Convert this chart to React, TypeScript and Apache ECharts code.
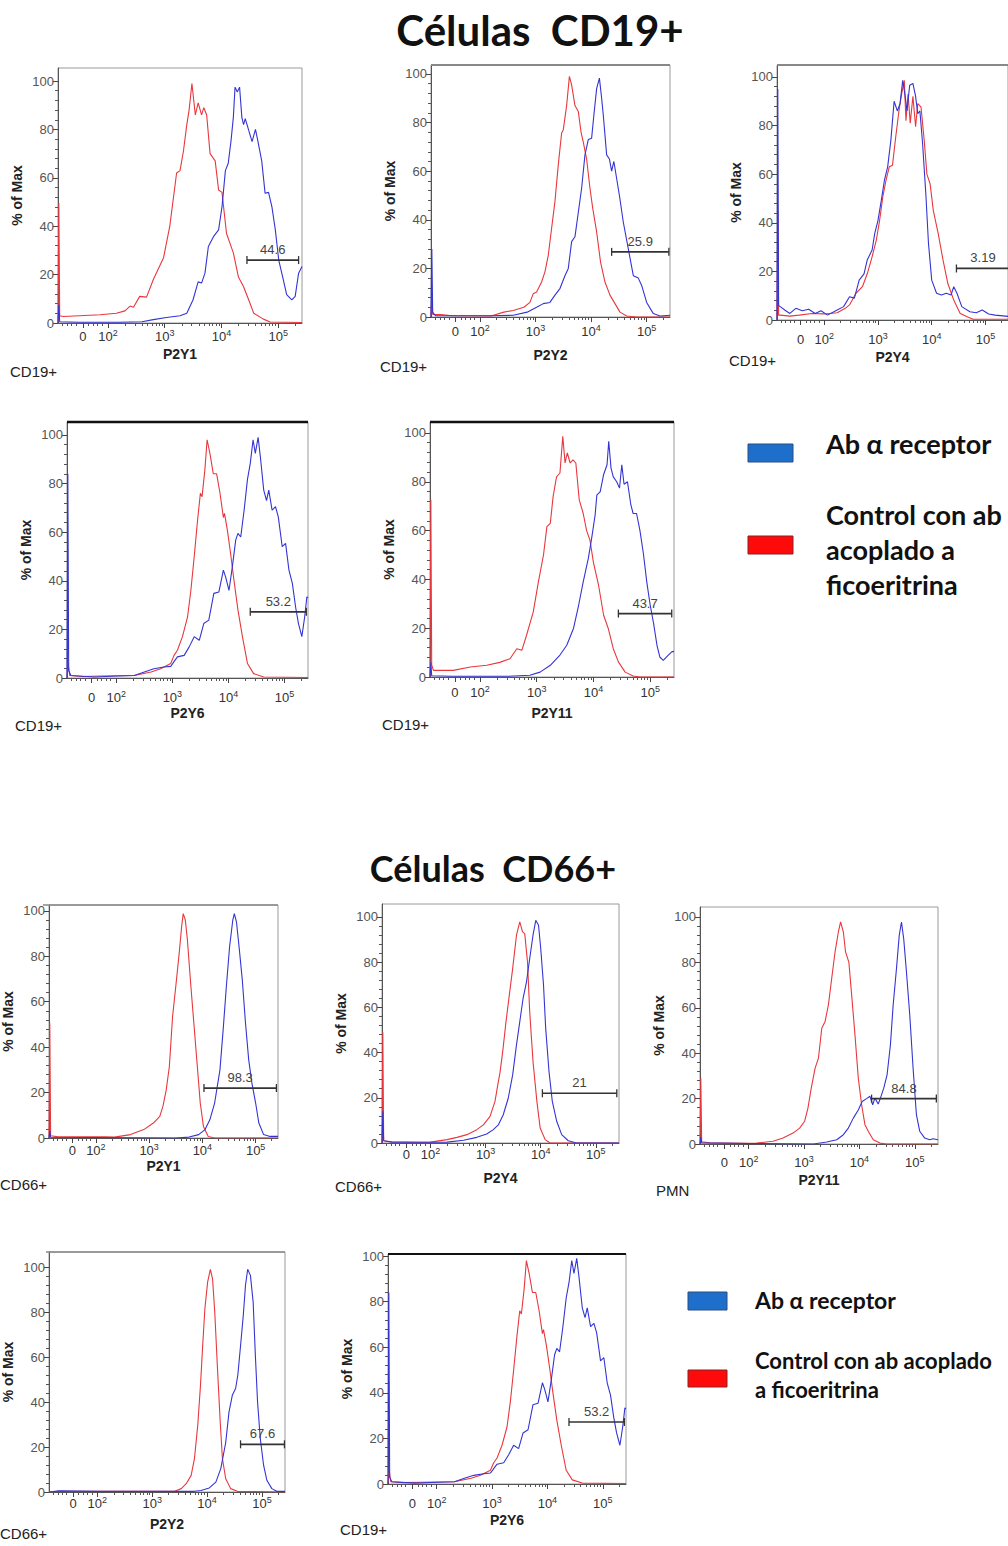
import React, { useEffect, useRef } from 'react';
import * as echarts from 'echarts';

type Pt = [number, number];

// x values: display position on the biexponential axis, in decades (10^k sits at k); y: % of Max
const cd19P2Y1Control: Pt[] = [[1.12,0],[1.135,49.5],[1.15,3],[1.21,2.7],[1.5,3],[1.86,3.4],[2.15,4],[2.3,5],[2.39,7],[2.45,6.5],[2.56,11],[2.68,10.7],[2.8,18],[2.98,27],[3.09,40],[3.21,62],[3.27,63],[3.33,71],[3.39,82],[3.43,88],[3.48,99],[3.54,86],[3.59,91],[3.65,86],[3.69,89],[3.74,86],[3.8,70],[3.89,67],[3.95,55],[4.01,54],[4.09,37],[4.21,29],[4.3,19],[4.39,15],[4.48,9.6],[4.57,4],[4.74,1.6],[4.86,0.4],[5.42,0.2]];
const cd19P2Y1Receptor: Pt[] = [[1.12,0],[1.135,7.5],[1.15,0.5],[1.5,0.3],[2.2,0.3],[2.6,0.5],[2.8,1.4],[3.03,2.3],[3.27,3],[3.39,4],[3.5,9.6],[3.59,17],[3.65,16.5],[3.71,20.6],[3.77,31.6],[3.86,35.7],[3.95,38.5],[4.01,48],[4.07,63],[4.12,66],[4.17,75.5],[4.21,85],[4.24,97.5],[4.28,95.5],[4.32,97.5],[4.36,85],[4.39,82],[4.42,84.5],[4.48,79.7],[4.54,75],[4.6,80],[4.64,75.5],[4.71,67],[4.77,53.6],[4.83,54],[4.89,48],[4.95,38.5],[5.01,26],[5.08,19],[5.15,11.7],[5.24,9.6],[5.3,11],[5.36,20.6],[5.42,23.4]];

const cd19P2Y2Control: Pt[] = [[1.12,0],[1.135,10],[1.15,1],[1.3,1],[1.5,0.5],[2.2,0.4],[2.43,2],[2.6,2.7],[2.79,4],[2.9,6],[2.96,9.6],[3.02,10.3],[3.11,14.4],[3.17,18.6],[3.23,25.4],[3.29,36.5],[3.35,47.5],[3.41,62.6],[3.47,75.7],[3.5,77],[3.56,87],[3.61,99],[3.65,95.5],[3.71,87],[3.77,84.6],[3.82,76],[3.86,72],[3.92,65],[3.98,53],[4.03,44.7],[4.1,35],[4.17,22.7],[4.25,14.4],[4.34,9],[4.43,5.5],[4.52,2],[4.64,0.4],[4.82,0],[5.42,0]];
const cd19P2Y2Receptor: Pt[] = [[1.12,0],[1.135,28],[1.15,2],[1.2,0.5],[2.2,0.5],[2.6,0.7],[2.85,2],[3.02,4],[3.14,5.5],[3.26,6],[3.35,9],[3.44,11.7],[3.53,17],[3.59,20],[3.65,31],[3.71,33],[3.77,43],[3.83,53],[3.89,66.7],[3.95,73],[4.01,73.6],[4.05,83],[4.1,94],[4.15,98.3],[4.19,90],[4.22,83],[4.28,66.7],[4.33,65],[4.37,60],[4.41,64],[4.46,57],[4.51,50],[4.58,39],[4.67,28],[4.76,17],[4.85,16],[4.91,13],[5,6],[5.12,1.4],[5.24,0.4],[5.42,0.7]];

const cd19P2Y4Control: Pt[] = [[1.12,0],[1.135,45],[1.15,2],[1.18,2],[1.36,1.6],[1.53,2],[1.77,2.7],[2,2.5],[2.24,3],[2.39,4.8],[2.47,6.2],[2.59,11],[2.71,13.7],[2.8,19],[2.89,26],[2.97,33],[3.03,41],[3.09,50.7],[3.15,57.5],[3.21,63],[3.27,63.7],[3.33,75.3],[3.39,86],[3.44,93],[3.49,98.6],[3.52,82],[3.56,93],[3.6,81],[3.65,92],[3.7,79.5],[3.74,89],[3.8,87.7],[3.86,74],[3.91,60],[3.97,56],[4.03,45],[4.12,35.6],[4.21,24.7],[4.3,15],[4.41,8.2],[4.53,2.7],[4.65,1.4],[4.77,0.3],[5.42,0.3]];
const cd19P2Y4Receptor: Pt[] = [[1.12,0],[1.135,95],[1.15,6],[1.18,5.5],[1.27,4],[1.36,2.7],[1.47,4.8],[1.59,3.8],[1.71,4.4],[1.83,2.7],[1.94,3.8],[2.06,2],[2.24,4.1],[2.36,5.5],[2.47,9.6],[2.56,9],[2.65,16.4],[2.74,19],[2.8,24.7],[2.89,28.8],[2.94,35.6],[3,41],[3.06,49],[3.12,57.5],[3.18,63],[3.24,74],[3.3,90],[3.36,86],[3.41,89],[3.46,98.6],[3.5,93],[3.54,86],[3.59,96.6],[3.65,97.3],[3.7,92],[3.74,84.9],[3.78,86],[3.83,72.6],[3.89,52],[3.94,31.5],[4,16.4],[4.09,11],[4.18,10.3],[4.27,11],[4.36,10.3],[4.41,13.7],[4.47,11],[4.56,5.5],[4.71,3.4],[4.83,3],[4.94,4.1],[5.06,2.5],[5.18,2],[5.42,1.5]];

const cd19P2Y6Control: Pt[] = [[1.12,0],[1.14,6],[1.17,1],[1.4,0.6],[1.73,0.8],[2.32,1],[2.62,2.5],[2.79,3.8],[2.97,6],[3.03,9.3],[3.09,11.4],[3.18,17],[3.27,25],[3.33,36],[3.39,50],[3.45,65],[3.5,76],[3.53,74.6],[3.58,85.6],[3.62,98],[3.67,92.4],[3.73,84],[3.79,84],[3.85,76],[3.91,66],[3.93,67.7],[3.98,61],[4.04,51],[4.1,40],[4.17,28],[4.25,17],[4.34,6],[4.45,1.8],[4.63,0.4],[5.42,0.2]];
const cd19P2Y6Receptor: Pt[] = [[1.12,0],[1.135,84],[1.15,3],[1.19,1],[1.61,0.4],[2.02,0.8],[2.32,1],[2.5,2.5],[2.67,3.8],[2.85,4.5],[2.97,4.8],[3.09,8.7],[3.21,9.3],[3.3,12.8],[3.39,17],[3.48,15.5],[3.56,22.4],[3.65,23.8],[3.74,34.8],[3.83,35.4],[3.91,44.4],[3.95,41.6],[4.01,36],[4.07,45.7],[4.13,56.7],[4.17,59.5],[4.22,58],[4.28,69],[4.34,81.7],[4.39,88.3],[4.44,98],[4.48,92.4],[4.53,99],[4.57,91],[4.63,77.3],[4.68,73],[4.72,77.3],[4.78,69],[4.84,70.5],[4.89,66.3],[4.96,54],[5.02,55.4],[5.08,44.4],[5.14,39],[5.2,29],[5.25,22.4],[5.31,17],[5.36,25],[5.4,33.4],[5.42,33]];

const cd19P2Y11Control: Pt[] = [[1.12,0],[1.135,72.6],[1.15,5],[1.18,2.7],[1.53,2.7],[1.83,4.1],[2.12,4.8],[2.35,6],[2.53,7.5],[2.65,11.6],[2.74,11],[2.82,17],[2.94,26.7],[3.03,39],[3.12,50],[3.18,61.6],[3.24,63],[3.29,74],[3.35,82],[3.41,83.6],[3.46,98.6],[3.5,87.7],[3.54,91.8],[3.59,87.7],[3.64,89],[3.69,87.7],[3.75,72.6],[3.82,67],[3.88,60],[3.94,56],[4,47],[4.09,37.7],[4.18,25.3],[4.26,20],[4.35,11.6],[4.44,6.2],[4.56,2],[4.7,0.4],[4.82,0],[5.42,0]];
const cd19P2Y11Receptor: Pt[] = [[1.12,0],[1.135,6],[1.15,0.5],[1.5,0.3],[2.5,0.3],[2.88,0.7],[3.06,2],[3.24,4.8],[3.41,9],[3.53,13],[3.65,20],[3.74,29.5],[3.82,39],[3.91,48.6],[3.97,57],[4.03,66.4],[4.06,74.5],[4.12,76],[4.18,83],[4.24,87],[4.27,96.6],[4.31,85.6],[4.35,82],[4.41,80],[4.46,77.4],[4.5,87],[4.54,79],[4.6,80],[4.66,70.5],[4.7,67],[4.76,67],[4.82,60],[4.88,50.7],[4.94,39],[5,29.5],[5.06,22],[5.12,13],[5.17,8.2],[5.23,6.8],[5.32,9],[5.38,10.3],[5.42,10.5]];

const cd66P2Y1Control: Pt[] = [[1.12,0],[1.135,50.5],[1.15,1],[1.3,0.5],[2.17,0.5],[2.35,0.4],[2.65,1.5],[2.9,3.7],[3.08,6.6],[3.2,9.5],[3.26,14],[3.32,21],[3.38,31.5],[3.44,53.4],[3.5,66.6],[3.57,82.7],[3.61,93],[3.64,98.8],[3.68,96],[3.72,87],[3.78,68],[3.84,50.5],[3.9,33],[3.96,15.4],[4.02,5.1],[4.11,0.7],[4.23,0],[5.42,0]];
const cd66P2Y1Receptor: Pt[] = [[1.12,0],[1.135,3],[1.15,0.3],[3.5,0],[3.75,0.4],[3.93,1.5],[4.05,3.7],[4.14,8],[4.23,15.4],[4.33,30],[4.39,47.6],[4.45,66.6],[4.51,84],[4.57,95.8],[4.6,98.8],[4.64,95.2],[4.69,84],[4.75,69.5],[4.81,50.5],[4.87,34.4],[4.93,24.2],[5,15.4],[5.06,6.6],[5.15,1.5],[5.27,0.7],[5.42,0.7]];

const cd66P2Y4Control: Pt[] = [[1.12,0],[1.135,49],[1.15,1],[1.3,0.5],[1.8,0.3],[2,0.4],[2.3,1.5],[2.48,2.5],[2.66,3.7],[2.84,5.9],[2.96,8],[3.08,11.8],[3.17,18.4],[3.23,27],[3.26,31],[3.31,40.4],[3.37,53.7],[3.43,65.4],[3.49,77],[3.56,91.9],[3.62,97.8],[3.67,93.4],[3.71,92.6],[3.76,80],[3.8,58],[3.86,36],[3.93,18.4],[3.99,6.6],[4.08,1.5],[4.17,0],[5.42,0]];
const cd66P2Y4Receptor: Pt[] = [[1.12,0],[1.135,14],[1.15,1],[1.3,0.3],[2,0.3],[2.3,0.4],[2.6,1.2],[2.84,2.5],[3.02,4],[3.14,5.9],[3.23,8],[3.32,12.5],[3.41,19.8],[3.49,30],[3.56,43.4],[3.62,53.7],[3.68,64],[3.74,71],[3.8,81.6],[3.86,91.9],[3.91,98.5],[3.96,96.3],[4,86],[4.05,70],[4.09,50.7],[4.15,31.6],[4.21,18.4],[4.29,9.6],[4.38,3.7],[4.5,1],[4.65,0],[5.42,0]];

const pmnP2Y11Control: Pt[] = [[1.12,0],[1.135,29],[1.15,1],[1.3,0.5],[2,0.3],[2.14,0.4],[2.44,1.2],[2.62,2.6],[2.8,4.8],[2.92,7],[3.01,10],[3.07,15.8],[3.13,24.6],[3.2,33.4],[3.26,37.8],[3.32,51],[3.38,54],[3.44,61.3],[3.5,73],[3.56,84.6],[3.62,93.4],[3.66,97.8],[3.71,93.4],[3.75,84.6],[3.81,80],[3.86,65.6],[3.92,48],[3.98,29],[4.04,17.3],[4.1,8.5],[4.16,5.6],[4.25,1.9],[4.37,0.4],[4.49,0],[5.42,0]];
const pmnP2Y11Receptor: Pt[] = [[1.12,0],[1.135,3],[1.15,0.5],[2,0.2],[3.17,0],[3.41,0.9],[3.59,1.9],[3.71,4.1],[3.8,7],[3.89,11.4],[3.98,15],[4.05,18.7],[4.13,20],[4.19,21],[4.24,17.3],[4.28,20.2],[4.34,17.6],[4.38,20.2],[4.44,24.6],[4.5,30.5],[4.56,43.6],[4.61,61.2],[4.67,77.3],[4.72,92],[4.76,97.8],[4.8,90.5],[4.85,75.8],[4.91,56.8],[4.97,33.4],[5.03,12.9],[5.09,5.6],[5.18,2.6],[5.27,1.9],[5.33,2.3],[5.42,1.9]];

const cd66P2Y2Control: Pt[] = [[1.12,0],[1.3,0.3],[2,0.3],[3,0.3],[3.41,0.3],[3.53,1.5],[3.62,3.7],[3.71,7.4],[3.77,14.8],[3.83,29.6],[3.88,47.4],[3.92,65],[3.96,81.5],[4.01,93.3],[4.06,99],[4.1,94.8],[4.14,80],[4.19,54.8],[4.24,31],[4.28,14.8],[4.34,5.9],[4.43,1.5],[4.55,0.3],[5.42,0]];
const cd66P2Y2Receptor: Pt[] = [[1.12,0],[1.3,0.5],[2,0.3],[3,0.3],[3.77,0.3],[3.89,0.7],[4.04,1.8],[4.16,4.4],[4.25,10.4],[4.34,22],[4.4,35.6],[4.46,43],[4.52,46],[4.56,51.9],[4.61,65],[4.66,78.5],[4.7,91.9],[4.74,99],[4.79,96.3],[4.84,84.4],[4.88,60.7],[4.92,40],[4.97,23.7],[5.03,11.9],[5.09,5.2],[5.18,1.5],[5.27,0.3],[5.42,0.3]];

// gates: [from, to, level, percentage]
const gateCd19P2Y1: [number, number, number, string] = [4.45, 5.36, 26, '44.6'];
const gateCd19P2Y2: [number, number, number, string] = [4.37, 5.4, 26.8, '25.9'];
const gateCd19P2Y4: [number, number, number, string] = [4.46, 5.45, 21.2, '3.19'];
const gateCd19P2Y6: [number, number, number, string] = [4.39, 5.39, 27.2, '53.2'];
const gateCd19P2Y11: [number, number, number, string] = [4.44, 5.38, 26, '43.7'];
const gateCd66P2Y1: [number, number, number, string] = [4.03, 5.39, 22, '98.3'];
const gateCd66P2Y4: [number, number, number, string] = [4.03, 5.38, 22, '21'];
const gatePmnP2Y11: [number, number, number, string] = [4.22, 5.39, 20, '84.8'];
const gateCd66P2Y2: [number, number, number, string] = [4.61, 5.41, 21.2, '67.6'];

const xTickValues = [1.56, 2, 3, 4, 5];
const xTickLabels = ['0', '10|2', '10|3', '10|4', '10|5'];
const xMinorValues = [1.2, 1.28, 1.36, 1.44, 1.66, 1.74, 1.82, 1.9,
  2.301, 2.477, 2.602, 2.699, 2.778, 2.845, 2.903, 2.954,
  3.301, 3.477, 3.602, 3.699, 3.778, 3.845, 3.903, 3.954,
  4.301, 4.477, 4.602, 4.699, 4.778, 4.845, 4.903, 4.954, 5.301];
const yTickValues = [0, 20, 40, 60, 80, 100];
const yMinorValues = [4, 8, 12, 16, 24, 28, 32, 36, 44, 48, 52, 56, 64, 68, 72, 76, 84, 88, 92, 96];

const X_MIN = 1.12;
const X_MAX = 5.42;
const RED = '#e8383d';
const BLUE = '#3434d4';
const FONT = 'Liberation Sans, Arial, sans-serif';

interface Panel {
  left: number; top: number; width: number; y0: number; ymax: number;
  red: Pt[]; blue: Pt[]; gate: [number, number, number, string];
  xName: string; tag: string; tagX: number; tagY: number;
  labOff: number; nameOff: number; topColor: string; topWidth: number;
}

const panels: Panel[] = [
  { left: 58, top: 68, width: 244, y0: 323, ymax: 105.4, red: cd19P2Y1Control, blue: cd19P2Y1Receptor, gate: gateCd19P2Y1, xName: 'P2Y1', tag: 'CD19+', tagX: 10, tagY: 371, labOff: 14, nameOff: 31, topColor: '#888', topWidth: 1 },
  { left: 431, top: 65, width: 239, y0: 317, ymax: 103.7, red: cd19P2Y2Control, blue: cd19P2Y2Receptor, gate: gateCd19P2Y2, xName: 'P2Y2', tag: 'CD19+', tagX: 380, tagY: 366, labOff: 15, nameOff: 38, topColor: '#888', topWidth: 2 },
  { left: 777, top: 65, width: 245, y0: 320, ymax: 104.9, red: cd19P2Y4Control, blue: cd19P2Y4Receptor, gate: gateCd19P2Y4, xName: 'P2Y4', tag: 'CD19+', tagX: 729, tagY: 360, labOff: 20, nameOff: 37, topColor: '#888', topWidth: 2 },
  { left: 67, top: 422, width: 241, y0: 678, ymax: 105.3, red: cd19P2Y6Control, blue: cd19P2Y6Receptor, gate: gateCd19P2Y6, xName: 'P2Y6', tag: 'CD19+', tagX: 15, tagY: 725, labOff: 20, nameOff: 35, topColor: '#111', topWidth: 2.5 },
  { left: 430, top: 422, width: 244, y0: 677, ymax: 104.5, red: cd19P2Y11Control, blue: cd19P2Y11Receptor, gate: gateCd19P2Y11, xName: 'P2Y11', tag: 'CD19+', tagX: 382, tagY: 724, labOff: 16, nameOff: 36, topColor: '#111', topWidth: 2.5 },
  { left: 43, top: 905, width: 235, y0: 1138, ymax: 102.6, red: cd66P2Y1Control, blue: cd66P2Y1Receptor, gate: gateCd66P2Y1, xName: 'P2Y1', tag: 'CD66+', tagX: 0, tagY: 1184, labOff: 13, nameOff: 28, topColor: '#888', topWidth: 1.5 },
  { left: 382, top: 904, width: 237, y0: 1143, ymax: 105.7, red: cd66P2Y4Control, blue: cd66P2Y4Receptor, gate: gateCd66P2Y4, xName: 'P2Y4', tag: 'CD66+', tagX: 335, tagY: 1186, labOff: 12, nameOff: 35, topColor: '#888', topWidth: 1 },
  { left: 700, top: 907, width: 238, y0: 1144, ymax: 104.4, red: pmnP2Y11Control, blue: pmnP2Y11Receptor, gate: gatePmnP2Y11, xName: 'P2Y11', tag: 'PMN', tagX: 656, tagY: 1190, labOff: 19, nameOff: 36, topColor: '#888', topWidth: 1 },
  { left: 46, top: 1252, width: 239, y0: 1492, ymax: 106.7, red: cd66P2Y2Control, blue: cd66P2Y2Receptor, gate: gateCd66P2Y2, xName: 'P2Y2', tag: 'CD66+', tagX: 0, tagY: 1533, labOff: 12, nameOff: 32, topColor: '#888', topWidth: 1.5 },
  { left: 388, top: 1254, width: 238, y0: 1484, ymax: 100.9, red: cd19P2Y6Control, blue: cd19P2Y6Receptor, gate: gateCd19P2Y6, xName: 'P2Y6', tag: 'CD19+', tagX: 340, tagY: 1529, labOff: 20, nameOff: 36, topColor: '#111', topWidth: 2 },
];

function buildOption() {
  const grid: any[] = [];
  const xAxis: any[] = [];
  const yAxis: any[] = [];
  const series: any[] = [];
  const graphic: any[] = [];

  panels.forEach((p, i) => {
    grid.push({ left: p.left, top: p.top, width: p.width, height: p.y0 - p.top, show: true, borderColor: '#9a9a9a', borderWidth: 1, backgroundColor: 'transparent' });
    const xi = xAxis.length;
    xAxis.push({
      gridIndex: i, type: 'value', position: 'bottom', min: X_MIN, max: X_MAX,
      name: p.xName, nameLocation: 'middle', nameGap: p.nameOff - 7,
      nameTextStyle: { fontWeight: 'bold', fontSize: 14, color: '#222', fontFamily: FONT },
      axisLine: { show: true, onZero: false, lineStyle: { color: '#555', width: 1 } },
      axisTick: { show: true, customValues: xTickValues, length: 5, lineStyle: { color: '#444' } },
      axisLabel: {
        customValues: xTickValues, margin: Math.max(2, p.labOff - 9), color: '#333', fontFamily: FONT,
        formatter: (v: number) => {
          const idx = xTickValues.findIndex((t) => Math.abs(t - v) < 0.001);
          const s = idx >= 0 ? xTickLabels[idx] : '';
          if (s.indexOf('|') < 0) return '{b|' + s + '}';
          const parts = s.split('|');
          return '{b|' + parts[0] + '}{s|' + parts[1] + '}';
        },
        rich: {
          b: { fontSize: 13, color: '#333', fontFamily: FONT, lineHeight: 16 },
          s: { fontSize: 9, color: '#333', fontFamily: FONT, verticalAlign: 'top' },
        },
      },
      splitLine: { show: false },
    });
    xAxis.push({
      gridIndex: i, type: 'value', position: 'bottom', min: X_MIN, max: X_MAX,
      axisLine: { show: false, onZero: false },
      axisTick: { show: true, customValues: xMinorValues, length: 3, lineStyle: { color: '#555' } },
      axisLabel: { show: false }, splitLine: { show: false },
    });
    const yi = yAxis.length;
    yAxis.push({
      gridIndex: i, type: 'value', position: 'left', min: 0, max: p.ymax,
      name: '% of Max', nameLocation: 'middle', nameGap: 34,
      nameTextStyle: { fontWeight: 'bold', fontSize: 14, color: '#222', fontFamily: FONT },
      axisLine: { show: true, onZero: false, lineStyle: { color: '#555', width: 1 } },
      axisTick: { show: true, customValues: yTickValues, length: 5, lineStyle: { color: '#444' } },
      axisLabel: { customValues: yTickValues, fontSize: 13, color: '#555', fontFamily: FONT, margin: 4 },
      splitLine: { show: false },
    });
    yAxis.push({
      gridIndex: i, type: 'value', position: 'left', min: 0, max: p.ymax,
      axisLine: { show: false, onZero: false },
      axisTick: { show: true, customValues: yMinorValues, length: 3, lineStyle: { color: '#555' } },
      axisLabel: { show: false }, splitLine: { show: false },
    });
    series.push({
      type: 'line', xAxisIndex: xi, yAxisIndex: yi, data: p.red, showSymbol: false, symbol: 'none',
      lineStyle: { color: RED, width: 1.1 }, silent: true, z: 3,
    });
    series.push({
      type: 'line', xAxisIndex: xi, yAxisIndex: yi, data: p.blue, showSymbol: false, symbol: 'none',
      lineStyle: { color: BLUE, width: 1.1 }, silent: true, z: 3,
    });
    const g = p.gate;
    series.push({
      type: 'custom', xAxisIndex: xi, yAxisIndex: yi, clip: false, silent: true, z: 5,
      data: [[g[0], g[1], g[2]]],
      encode: { x: [0, 1], y: 2 },
      renderItem: (_params: any, api: any) => {
        const a = api.coord([api.value(0), api.value(2)]);
        const b = api.coord([api.value(1), api.value(2)]);
        return {
          type: 'group',
          children: [
            { type: 'line', shape: { x1: a[0], y1: a[1], x2: b[0], y2: b[1] }, style: { stroke: '#333', lineWidth: 1.7 } },
            { type: 'line', shape: { x1: a[0], y1: a[1] - 4, x2: a[0], y2: a[1] + 4 }, style: { stroke: '#333', lineWidth: 1.3 } },
            { type: 'line', shape: { x1: b[0], y1: b[1] - 4, x2: b[0], y2: b[1] + 4 }, style: { stroke: '#333', lineWidth: 1.3 } },
            {
              type: 'text', x: (a[0] + b[0]) / 2, y: a[1] - 4,
              style: { text: g[3], fill: '#444', fontSize: 13, fontFamily: FONT, align: 'center', verticalAlign: 'bottom', textAlign: 'center', textVerticalAlign: 'bottom' },
            },
          ],
        };
      },
    });
    if (p.topWidth > 1) {
      graphic.push({
        type: 'line', silent: true, z: 10,
        shape: { x1: p.left, y1: p.top, x2: p.left + p.width, y2: p.top },
        style: { stroke: p.topColor, lineWidth: p.topWidth },
      });
    }
    graphic.push({
      type: 'text', x: p.tagX, y: p.tagY, silent: true,
      style: { text: p.tag, fill: '#222', fontSize: 15, fontFamily: FONT, align: 'left', verticalAlign: 'middle', textAlign: 'left', textVerticalAlign: 'middle' },
    });
  });

  const bigText = (text: string, x: number, y: number, size: number, align = 'left') => ({
    type: 'text', x, y, silent: true,
    style: { text, fill: '#111', fontSize: size, fontWeight: 'bold', fontFamily: 'Lato, Open Sans, sans-serif', align, verticalAlign: 'middle', textAlign: align, textVerticalAlign: 'middle' },
  });

  graphic.push(bigText('Células  CD19+', 540, 30, 42, 'center'));
  graphic.push(bigText('Células  CD66+', 493, 868, 36, 'center'));

  graphic.push({ type: 'rect', silent: true, shape: { x: 748, y: 444, width: 45, height: 18 }, style: { fill: '#1d6fcb', stroke: '#2a4f80', lineWidth: 1 } });
  graphic.push({ type: 'rect', silent: true, shape: { x: 748, y: 536, width: 45, height: 18 }, style: { fill: '#ff0a0a', stroke: '#8a2020', lineWidth: 1 } });
  graphic.push(bigText('Ab α receptor', 826, 443, 27));
  graphic.push(bigText('Control con ab', 826, 514, 27));
  graphic.push(bigText('acoplado a', 826, 549, 27));
  graphic.push(bigText('ficoeritrina', 826, 584, 27));

  graphic.push({ type: 'rect', silent: true, shape: { x: 688, y: 1292, width: 39, height: 18 }, style: { fill: '#1d6fcb', stroke: '#2a4f80', lineWidth: 1 } });
  graphic.push({ type: 'rect', silent: true, shape: { x: 688, y: 1370, width: 39, height: 17 }, style: { fill: '#ff0a0a', stroke: '#8a2020', lineWidth: 1 } });
  graphic.push(bigText('Ab α receptor', 755, 1300, 23));
  graphic.push(bigText('Control con ab acoplado', 755, 1360, 22));
  graphic.push(bigText('a ficoeritrina', 755, 1389, 22));

  return {
    animation: false,
    backgroundColor: '#ffffff',
    textStyle: { fontFamily: FONT },
    grid, xAxis, yAxis, series, graphic,
  };
}

export default function App() {
  const ref = useRef<HTMLDivElement>(null);
  useEffect(() => {
    if (!ref.current) return;
    const chart = echarts.init(ref.current, undefined, { renderer: 'svg' });
    chart.setOption(buildOption() as any);
    return () => chart.dispose();
  }, []);
  return <div ref={ref} style={{ position: 'absolute', left: 0, top: 0, width: 1008, height: 1546 }} />;
}
